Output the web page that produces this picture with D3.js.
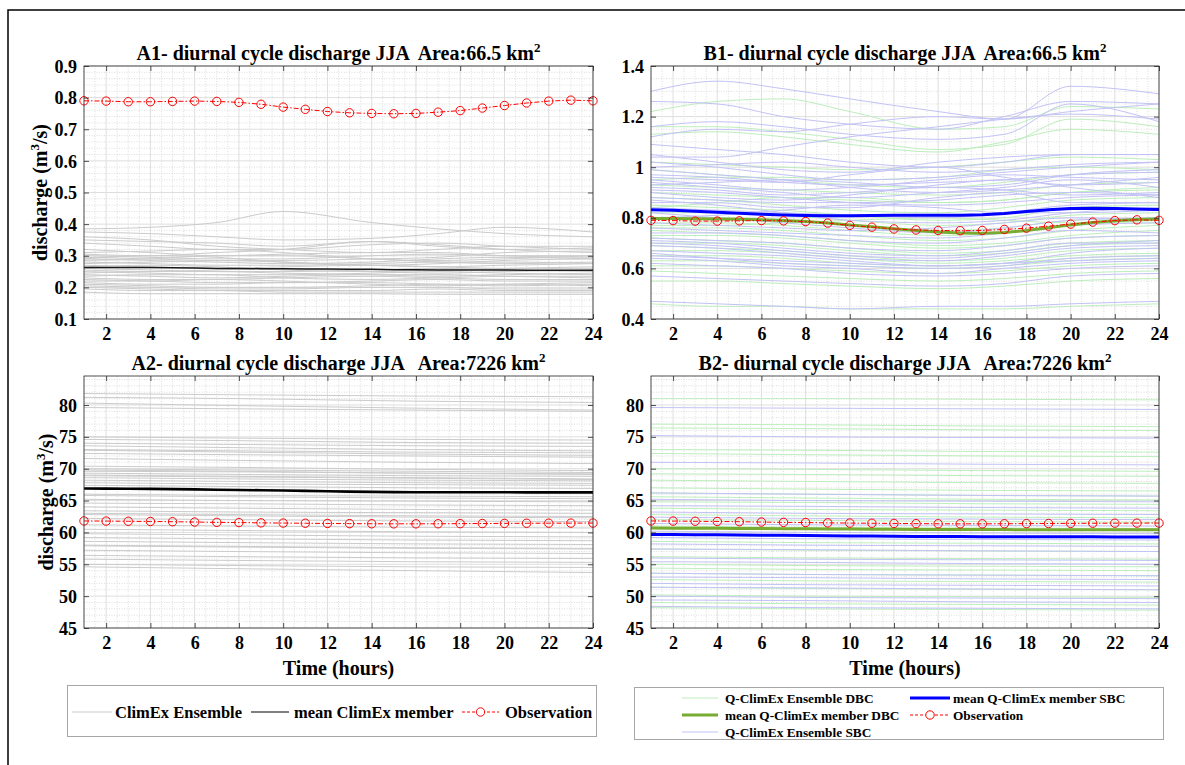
<!DOCTYPE html>
<html><head><meta charset="utf-8">
<script src="https://cdn.jsdelivr.net/npm/d3@7"></script>
<style>
body{margin:0;background:#fff}
svg text{font-family:"Liberation Serif","Times New Roman","DejaVu Serif",serif !important;font-weight:bold;fill:#000}
</style>
</head><body><svg id="c" width="1185" height="765" font-family="Liberation Serif"></svg>
<script>
// ---------------- DATA ----------------
const hours=[1,2,3,4,5,6,7,8,9,10,11,12,13,14,15,16,17,18,19,20,21,22,23,24];
const xTicks=[2,4,6,8,10,12,14,16,18,20,22,24];
const yTicksA1=[0.1,0.2,0.3,0.4,0.5,0.6,0.7,0.8,0.9];
const yTicksB1=[0.4,0.6,0.8,1,1.2,1.4];
const yTicks2=[45,50,55,60,65,70,75,80];
const ensHoursSmall=[1,4,7,10,14,17,20,24];
const ensHoursLarge=[1,8,16,24];

// observations
const obsSmall=[0.790,0.789,0.787,0.787,0.788,0.789,0.788,0.785,0.779,0.770,0.763,0.756,0.752,0.750,0.749,0.750,0.754,0.759,0.767,0.775,0.783,0.789,0.792,0.790];
const obsLarge=[61.80,61.78,61.75,61.72,61.68,61.63,61.58,61.55,61.50,61.47,61.44,61.41,61.38,61.36,61.35,61.35,61.36,61.38,61.40,61.42,61.44,61.45,61.46,61.47];

// ensemble means
const meanA1=[0.263,0.263,0.263,0.263,0.262,0.261,0.260,0.260,0.259,0.259,0.258,0.258,0.257,0.257,0.256,0.256,0.255,0.255,0.255,0.255,0.254,0.254,0.254,0.254];
const meanA2=[66.90,66.88,66.86,66.84,66.80,66.75,66.70,66.66,66.62,66.58,66.52,66.46,66.40,66.36,66.33,66.31,66.30,66.30,66.30,66.30,66.29,66.29,66.28,66.28];
const meanB1DBC=[0.797,0.797,0.796,0.795,0.794,0.792,0.789,0.785,0.779,0.772,0.765,0.757,0.750,0.744,0.740,0.739,0.742,0.750,0.761,0.772,0.781,0.788,0.793,0.795];
const meanB1SBC=[0.832,0.830,0.826,0.822,0.818,0.814,0.811,0.809,0.808,0.808,0.809,0.810,0.810,0.810,0.810,0.812,0.817,0.825,0.832,0.837,0.838,0.837,0.835,0.833];
const meanB2DBC=[60.68,60.67,60.66,60.64,60.62,60.60,60.58,60.56,60.54,60.52,60.50,60.48,60.47,60.46,60.45,60.44,60.44,60.43,60.43,60.42,60.42,60.42,60.42,60.42];
const meanB2SBC=[59.68,59.67,59.65,59.63,59.60,59.57,59.54,59.51,59.48,59.45,59.42,59.40,59.38,59.36,59.35,59.34,59.33,59.32,59.32,59.31,59.31,59.30,59.30,59.30];

// ensemble members (values at ensHoursSmall)
const ensA1=[
[0.385,0.39,0.405,0.44,0.405,0.385,0.37,0.36],
[0.375,0.37,0.36,0.35,0.355,0.37,0.39,0.375],
[0.36,0.35,0.33,0.32,0.31,0.32,0.33,0.33],
[0.35,0.345,0.34,0.33,0.345,0.335,0.32,0.31],
[0.34,0.33,0.32,0.32,0.335,0.34,0.33,0.32],
[0.305,0.30,0.31,0.32,0.345,0.33,0.32,0.325],
[0.30,0.295,0.29,0.29,0.30,0.305,0.30,0.30],
[0.29,0.285,0.28,0.275,0.28,0.29,0.295,0.29],
[0.285,0.29,0.30,0.30,0.29,0.28,0.275,0.28],
[0.28,0.275,0.27,0.27,0.275,0.28,0.28,0.275],
[0.275,0.28,0.285,0.28,0.27,0.265,0.27,0.275],
[0.27,0.265,0.26,0.265,0.27,0.265,0.26,0.26],
[0.265,0.27,0.265,0.255,0.25,0.255,0.26,0.265],
[0.26,0.255,0.25,0.25,0.255,0.26,0.255,0.25],
[0.255,0.25,0.255,0.26,0.25,0.245,0.25,0.255],
[0.25,0.245,0.24,0.24,0.245,0.25,0.245,0.24],
[0.245,0.25,0.25,0.245,0.24,0.235,0.24,0.245],
[0.24,0.235,0.23,0.235,0.24,0.24,0.235,0.23],
[0.235,0.24,0.24,0.23,0.225,0.23,0.235,0.235],
[0.23,0.225,0.225,0.23,0.235,0.23,0.225,0.225],
[0.225,0.22,0.215,0.215,0.22,0.225,0.22,0.22],
[0.22,0.22,0.225,0.22,0.21,0.205,0.21,0.215],
[0.215,0.21,0.21,0.215,0.215,0.21,0.205,0.21],
[0.21,0.205,0.20,0.20,0.205,0.21,0.21,0.205],
[0.205,0.20,0.195,0.195,0.20,0.20,0.195,0.195],
[0.20,0.195,0.19,0.19,0.19,0.195,0.19,0.19],
[0.195,0.19,0.19,0.185,0.185,0.185,0.185,0.185],
[0.32,0.31,0.30,0.305,0.31,0.31,0.30,0.295],
[0.31,0.315,0.32,0.31,0.29,0.285,0.29,0.30],
[0.295,0.29,0.285,0.285,0.29,0.295,0.31,0.315],
[0.29,0.30,0.295,0.28,0.27,0.275,0.285,0.29],
[0.185,0.18,0.18,0.18,0.18,0.178,0.178,0.178]
];
const ensB1SBC=[
[1.30,1.34,1.31,1.27,1.22,1.19,1.32,1.29],
[1.26,1.25,1.20,1.17,1.15,1.20,1.26,1.25],
[1.16,1.18,1.16,1.13,1.11,1.13,1.25,1.18],
[1.12,1.15,1.14,1.17,1.20,1.19,1.22,1.25],
[1.04,1.04,1.08,1.12,1.16,1.19,1.21,1.19],
[1.05,1.02,0.99,0.98,1.02,1.04,1.05,1.05],
[1.02,1.00,0.97,0.95,0.96,0.98,1.00,1.02],
[0.96,0.95,0.94,0.97,1.00,0.96,0.93,0.94],
[0.95,0.93,0.91,0.92,0.95,0.97,0.96,0.95],
[0.94,0.92,0.90,0.88,0.90,0.92,0.95,0.92],
[0.92,0.91,0.89,0.90,0.92,0.91,0.89,0.90],
[0.90,0.88,0.87,0.89,0.93,0.95,0.92,0.88],
[0.88,0.87,0.86,0.86,0.87,0.89,0.90,0.89],
[0.86,0.86,0.84,0.84,0.88,0.90,0.86,0.86],
[0.84,0.83,0.82,0.81,0.80,0.82,0.85,0.86],
[0.80,0.81,0.83,0.85,0.84,0.82,0.82,0.83],
[0.78,0.77,0.76,0.75,0.76,0.78,0.80,0.79],
[0.76,0.75,0.74,0.73,0.72,0.74,0.77,0.78],
[0.74,0.74,0.73,0.71,0.70,0.72,0.75,0.74],
[0.72,0.71,0.70,0.68,0.67,0.69,0.72,0.73],
[0.71,0.70,0.68,0.66,0.65,0.67,0.70,0.70],
[0.69,0.68,0.66,0.64,0.63,0.65,0.68,0.69],
[0.67,0.66,0.65,0.63,0.61,0.62,0.66,0.68],
[0.66,0.64,0.62,0.61,0.60,0.61,0.64,0.65],
[0.64,0.63,0.61,0.60,0.58,0.60,0.62,0.63],
[0.62,0.61,0.60,0.58,0.57,0.58,0.60,0.61],
[0.57,0.56,0.55,0.54,0.53,0.54,0.57,0.58],
[0.47,0.46,0.45,0.44,0.45,0.45,0.46,0.47],
[0.99,0.97,0.95,0.92,0.90,0.91,0.93,0.96],
[0.93,0.94,0.95,0.94,0.92,0.93,0.97,0.99],
[0.87,0.85,0.82,0.79,0.78,0.79,0.82,0.84],
[0.82,0.80,0.78,0.76,0.74,0.76,0.79,0.80],
[1.09,1.07,1.05,1.02,1.00,1.02,1.05,1.05],
[0.97,0.96,0.94,0.93,0.94,0.95,0.97,0.98],
[0.91,0.90,0.88,0.86,0.85,0.86,0.88,0.89],
[0.70,0.69,0.67,0.65,0.64,0.66,0.69,0.71],
[0.65,0.64,0.63,0.62,0.61,0.62,0.63,0.64],
[1.00,1.01,1.02,1.00,0.98,0.99,1.01,1.02]
];
const ensB1DBC=[
[1.22,1.26,1.27,1.22,1.15,1.16,1.24,1.23],
[1.16,1.16,1.14,1.11,1.07,1.09,1.19,1.16],
[1.13,1.14,1.12,1.09,1.06,1.10,1.15,1.13],
[1.02,1.01,1.00,0.99,1.00,1.02,1.04,1.03],
[0.99,0.97,0.95,0.93,0.92,0.94,0.97,0.98],
[0.93,0.92,0.91,0.90,0.89,0.90,0.93,0.94],
[0.90,0.89,0.88,0.87,0.86,0.87,0.90,0.91],
[0.88,0.87,0.85,0.83,0.82,0.84,0.87,0.88],
[0.85,0.84,0.83,0.81,0.79,0.80,0.84,0.85],
[0.82,0.82,0.81,0.79,0.77,0.78,0.81,0.82],
[0.80,0.80,0.79,0.77,0.75,0.76,0.79,0.80],
[0.78,0.78,0.77,0.75,0.73,0.74,0.77,0.79],
[0.76,0.76,0.75,0.73,0.71,0.72,0.75,0.77],
[0.75,0.74,0.73,0.71,0.69,0.70,0.73,0.75],
[0.73,0.73,0.72,0.70,0.68,0.69,0.72,0.73],
[0.72,0.71,0.70,0.68,0.66,0.67,0.70,0.71],
[0.70,0.70,0.69,0.67,0.65,0.66,0.69,0.70],
[0.69,0.68,0.67,0.65,0.63,0.64,0.67,0.68],
[0.67,0.67,0.66,0.64,0.62,0.63,0.65,0.66],
[0.65,0.65,0.64,0.62,0.61,0.62,0.64,0.65],
[0.63,0.63,0.62,0.61,0.60,0.61,0.63,0.64],
[0.61,0.61,0.60,0.59,0.58,0.59,0.61,0.62],
[0.59,0.58,0.57,0.56,0.55,0.56,0.58,0.59],
[0.55,0.55,0.54,0.53,0.52,0.53,0.55,0.56],
[0.46,0.45,0.45,0.44,0.44,0.44,0.45,0.46],
[0.84,0.86,0.88,0.88,0.86,0.87,0.90,0.92],
[0.77,0.77,0.78,0.79,0.80,0.79,0.78,0.78],
[0.95,0.96,0.96,0.95,0.96,0.99,1.00,0.99]
];
// ensemble members (values at ensHoursLarge)
const ensA2=[
[81.8,81.6,81.4,81.3],[81.2,81.0,80.6,80.4],[80.3,79.9,79.5,79.2],[79.6,79.4,79.2,79.0],
[75.0,74.8,74.6,74.5],[74.6,74.4,74.1,74.0],[74.0,73.8,73.6,73.5],[73.6,73.3,73.0,72.8],
[73.0,72.8,72.6,72.5],[72.4,72.2,72.0,71.8],[71.6,71.3,71.0,70.8],[70.4,70.2,69.9,69.7],
[70.0,69.8,69.6,69.4],[69.6,69.5,69.3,69.2],[69.3,69.1,68.9,68.8],[69.0,68.8,68.6,68.4],
[68.6,68.4,68.2,68.1],[68.2,68.0,67.8,67.7],[67.8,67.6,67.5,67.4],[67.4,67.2,67.0,66.9],
[65.8,65.6,65.4,65.3],[65.2,65.0,64.9,64.8],[64.6,64.5,64.3,64.2],[64.0,63.8,63.6,63.5],
[63.4,63.2,63.1,63.0],[62.8,62.6,62.4,62.3],[62.2,62.0,61.8,61.7],[61.2,61.0,60.8,60.7],
[60.5,60.3,60.1,60.0],[59.8,59.6,59.4,59.3],[59.2,59.0,58.8,58.7],[58.6,58.4,58.2,58.1],
[57.9,57.7,57.5,57.4],[57.2,57.0,56.8,56.7],[56.4,56.2,56.0,55.9],[55.8,55.6,55.4,55.3],
[55.0,54.8,54.6,54.5],[54.6,54.3,54.0,53.7],[69.8,69.6,69.3,69.1],[68.9,68.7,68.5,68.3],
[72.9,72.6,72.3,72.1],[66.0,65.8,65.7,65.6],[63.0,62.8,62.6,62.5],[58.0,57.8,57.6,57.5]
];
const ensB2DBC=[
[81.0,81.0,80.9,80.8],[77.0,76.9,76.7,76.6],[76.4,76.3,76.1,76.0],[73.0,72.9,72.7,72.6],
[72.4,72.2,72.0,71.9],[69.2,69.1,68.9,68.8],[68.2,68.0,67.8,67.7],[67.0,66.8,66.6,66.5],
[65.6,65.4,65.2,65.1],[64.8,64.7,64.5,64.4],[63.8,63.6,63.5,63.4],[62.8,62.6,62.4,62.3],
[62.0,61.9,61.7,61.6],[61.0,60.8,60.7,60.6],[59.6,59.4,59.3,59.2],[58.6,58.4,58.3,58.2],
[57.4,57.2,57.1,57.0],[56.2,56.0,55.9,55.8],[55.0,54.8,54.7,54.6],[54.4,54.2,54.1,54.0],
[53.6,53.4,53.3,53.2],[52.6,52.4,52.3,52.2],[51.4,51.2,51.1,51.0],[50.2,50.0,49.9,49.8],
[49.0,48.8,48.7,48.6],[48.2,48.0,47.9,47.8],[70.0,69.9,69.7,69.6],[66.2,66.0,65.8,65.7]
];
const ensB2SBC=[
[79.6,79.5,79.4,79.3],[75.2,75.0,74.9,74.8],[71.0,70.9,70.7,70.6],[66.2,66.0,65.8,65.7],
[65.2,65.0,64.9,64.8],[64.2,64.1,63.9,63.8],[63.2,63.0,62.9,62.8],[62.4,62.2,62.1,62.0],
[61.4,61.2,61.1,61.0],[59.2,59.0,58.9,58.8],[58.2,58.0,57.9,57.8],[57.4,57.3,57.1,57.0],
[56.0,55.8,55.7,55.6],[55.4,55.3,55.1,55.0],[53.6,53.4,53.3,53.2],[53.0,52.9,52.7,52.6],
[52.0,51.8,51.7,51.6],[51.4,51.3,51.1,51.0],[50.0,49.8,49.7,49.6],[49.4,49.3,49.1,49.0],
[48.4,48.2,48.1,48.0],[60.2,60.0,59.9,59.8]
];

// ---------------- STYLE ----------------
const FONT='"Liberation Serif","Times New Roman","DejaVu Serif",serif';
const C={gray:"#cbcbcb",green:"#bdeebd",blue:"#c2c2f5",greenMean:"#77ac30",blueMean:"#0000ff",obs:"#ff0000",
  grid:"#dedede",minor:"#c8c8c8",axis:"#262626"};

const svg=d3.select("#c");
// outer frame
svg.append("rect").attr("x",8).attr("y",10).attr("width",1300).attr("height",900)
  .attr("fill","none").attr("stroke","#000").attr("stroke-width",1.5);

function txt(sel){return sel.style("font-family",FONT).style("font-weight","bold");}

let clipId=0;
function panel(o){
  const g=svg.append("g");
  const x=d3.scaleLinear().domain([1,24]).range([o.x0,o.x1]);
  const y=d3.scaleLinear().domain(o.yDomain).range([o.y1,o.y0]);
  const id="clip"+(clipId++);
  g.append("clipPath").attr("id",id).append("rect")
    .attr("x",o.x0).attr("y",o.y0).attr("width",o.x1-o.x0).attr("height",o.y1-o.y0);

  // grid
  const mx=d3.range(1,24.0001,0.5).filter(v=>xTicks.indexOf(v)<0);
  const my=d3.range(o.yDomain[0],o.yDomain[1]+1e-9,o.minor).filter(v=>!o.yTicks.some(t=>Math.abs(t-v)<1e-9));
  const grid=g.append("g");
  grid.selectAll(".mx").data(mx).join("line").attr("x1",d=>x(d)).attr("x2",d=>x(d)).attr("y1",o.y0).attr("y2",o.y1)
    .attr("stroke",C.minor).attr("stroke-width",0.6).attr("stroke-dasharray","1,1.5");
  grid.selectAll(".my").data(my).join("line").attr("y1",d=>y(d)).attr("y2",d=>y(d)).attr("x1",o.x0).attr("x2",o.x1)
    .attr("stroke",C.minor).attr("stroke-width",0.6).attr("stroke-dasharray","1,1.5");
  grid.selectAll(".gx").data(xTicks).join("line").attr("x1",d=>x(d)).attr("x2",d=>x(d)).attr("y1",o.y0).attr("y2",o.y1)
    .attr("stroke",C.grid).attr("stroke-width",1);
  grid.selectAll(".gy").data(o.yTicks).join("line").attr("y1",d=>y(d)).attr("y2",d=>y(d)).attr("x1",o.x0).attr("x2",o.x1)
    .attr("stroke",C.grid).attr("stroke-width",1);

  const plot=g.append("g").attr("clip-path",`url(#${id})`);
  const ensLine=d3.line().x(d=>x(d[0])).y(d=>y(d[1])).curve(d3.curveMonotoneX);
  const hourLine=d3.line().x((d,i)=>x(hours[i])).y(d=>y(d));
  function ens(sets,hrs,color){
    plot.append("g").selectAll("path").data(sets).join("path")
      .attr("d",s=>ensLine(s.map((v,i)=>[hrs[i],v])))
      .attr("fill","none").attr("stroke",color).attr("stroke-width",1);
  }
  o.ens.forEach(e=>ens(e.data,o.ensHours,e.color));
  o.means.forEach(m=>{
    plot.append("path").attr("d",hourLine(m.data)).attr("fill","none")
      .attr("stroke",m.color).attr("stroke-width",m.width);
  });
  // observation
  plot.append("path").attr("d",hourLine(o.obs)).attr("fill","none").attr("stroke",C.obs)
    .attr("stroke-width",1).attr("stroke-dasharray","5,2,1.5,2");
  g.append("g").selectAll("circle").data(o.obs).join("circle")
    .attr("cx",(d,i)=>x(hours[i])).attr("cy",d=>y(d)).attr("r",4.2)
    .attr("fill","none").attr("stroke",C.obs).attr("stroke-width",1);

  // box
  g.append("rect").attr("x",o.x0).attr("y",o.y0).attr("width",o.x1-o.x0).attr("height",o.y1-o.y0)
    .attr("fill","none").attr("stroke",C.axis).attr("stroke-width",0.8);
  // axes
  const fs=18;
  const ax=g.append("g").attr("transform",`translate(0,${o.y1})`)
    .call(d3.axisBottom(x).tickValues(xTicks).tickSize(-5).tickSizeOuter(0).tickPadding(8));
  const ay=g.append("g").attr("transform",`translate(${o.x0},0)`)
    .call(d3.axisLeft(y).tickValues(o.yTicks).tickSize(-5).tickSizeOuter(0).tickPadding(7).tickFormat(d=>String(d)));
  const at=g.append("g").attr("transform",`translate(0,${o.y0})`)
    .call(d3.axisTop(x).tickValues(xTicks).tickSize(-5).tickSizeOuter(0).tickFormat(""));
  const ar=g.append("g").attr("transform",`translate(${o.x1},0)`)
    .call(d3.axisRight(y).tickValues(o.yTicks).tickSize(-5).tickSizeOuter(0).tickFormat(""));
  [ax,ay,at,ar].forEach(a=>{
    a.attr("font-family",null).attr("font-size",null);
    a.select(".domain").remove();
    a.selectAll(".tick line").attr("stroke",C.axis).attr("stroke-width",0.8);
    txt(a.selectAll("text")).attr("font-size",fs).attr("fill","#000");
  });
  ax.selectAll("text").attr("dy","0.71em");
  ay.selectAll("text").attr("dy","0.34em");

  // title
  const t=txt(g.append("text")).attr("x",(o.x0+o.x1)/2).attr("y",o.y0-6).attr("text-anchor","middle")
    .attr("font-size",20).style("white-space","pre");
  t.append("tspan").text(o.title);
  t.append("tspan").attr("dy",-8).attr("font-size",13).text("2");

  if(o.xlabel){
    txt(g.append("text")).attr("x",(o.x0+o.x1)/2).attr("y",o.y1+47).attr("text-anchor","middle")
      .attr("font-size",20).text("Time (hours)");
  }
  if(o.ylabel){
    const yl=txt(g.append("text")).attr("transform",`translate(${o.ylx},${(o.y0+o.y1)/2}) rotate(-90)`)
      .attr("text-anchor","middle").attr("font-size",20);
    yl.append("tspan").text("discharge (m");
    yl.append("tspan").attr("dy",-8).attr("font-size",13).text("3");
    yl.append("tspan").attr("dy",8).text("/s)");
  }
}

panel({x0:84,x1:593,y0:66,y1:319,yDomain:[0.1,0.9],yTicks:yTicksA1,minor:0.02,
  ensHours:ensHoursSmall,ens:[{data:ensA1,color:C.gray}],
  means:[{data:meanA1,color:"#1a1a1a",width:1.5}],obs:obsSmall,
  title:"A1- diurnal cycle discharge JJA  Area:66.5 km",ylabel:true,ylx:47});
panel({x0:651,x1:1159,y0:66,y1:319,yDomain:[0.4,1.4],yTicks:yTicksB1,minor:0.05,
  ensHours:ensHoursSmall,ens:[{data:ensB1DBC,color:C.green},{data:ensB1SBC,color:C.blue}],
  means:[{data:meanB1DBC,color:C.greenMean,width:3},{data:meanB1SBC,color:C.blueMean,width:3}],obs:obsSmall,
  title:"B1- diurnal cycle discharge JJA  Area:66.5 km"});
panel({x0:84,x1:593,y0:376,y1:628,yDomain:[45,84.55],yTicks:yTicks2,minor:1,
  ensHours:ensHoursLarge,ens:[{data:ensA2,color:C.gray}],
  means:[{data:meanA2,color:"#000",width:2.6}],obs:obsLarge,
  title:"A2- diurnal cycle discharge JJA   Area:7226 km",ylabel:true,ylx:53,xlabel:true});
panel({x0:651,x1:1159,y0:376,y1:628,yDomain:[45,84.55],yTicks:yTicks2,minor:1,
  ensHours:ensHoursLarge,ens:[{data:ensB2DBC,color:C.green},{data:ensB2SBC,color:C.blue}],
  means:[{data:meanB2DBC,color:C.greenMean,width:3},{data:meanB2SBC,color:C.blueMean,width:3}],obs:obsLarge,
  title:"B2- diurnal cycle discharge JJA   Area:7226 km",xlabel:true});

// ---------------- LEGENDS ----------------
function legendItem(g,x1,x2,yc,kind,color,width,label,tx,fs){
  g.append("line").attr("x1",x1).attr("x2",x2).attr("y1",yc).attr("y2",yc).attr("stroke",color)
    .attr("stroke-width",width).attr("stroke-dasharray",kind==="obs"?"3,2":null);
  if(kind==="obs") g.append("circle").attr("cx",(x1+x2)/2).attr("cy",yc).attr("r",4.2)
    .attr("fill","#fff").attr("stroke",color).attr("stroke-width",1);
  txt(g.append("text")).attr("x",tx).attr("y",yc).attr("dy","0.34em").attr("font-size",fs).text(label);
}
const lg1=svg.append("g");
lg1.append("rect").attr("x",67.5).attr("y",685.5).attr("width",529).attr("height",51)
  .attr("fill","#fff").attr("stroke","#a6a6a6").attr("stroke-width",1);
legendItem(lg1,72,112,712,"line",C.gray,1,"ClimEx Ensemble",115,16.5);
legendItem(lg1,251,289,712,"line","#000",1.2,"mean ClimEx member",294,16.5);
legendItem(lg1,462,499,712,"obs",C.obs,1,"Observation",505,16.5);

const lg2=svg.append("g");
lg2.append("rect").attr("x",634.5).attr("y",687.5).attr("width",529).attr("height",52)
  .attr("fill","#fff").attr("stroke","#a6a6a6").attr("stroke-width",1);
legendItem(lg2,682,718,698,"line",C.green,1,"Q-ClimEx Ensemble DBC",725,13.3);
legendItem(lg2,682,718,715,"line",C.greenMean,3,"mean Q-ClimEx member DBC",725,13.3);
legendItem(lg2,682,718,732,"line",C.blue,1,"Q-ClimEx Ensemble SBC",725,13.3);
legendItem(lg2,910,950,698,"line",C.blueMean,3,"mean Q-ClimEx member SBC",953,13.3);
legendItem(lg2,910,950,715,"obs",C.obs,1,"Observation",953,13.3);
</script></body></html>
